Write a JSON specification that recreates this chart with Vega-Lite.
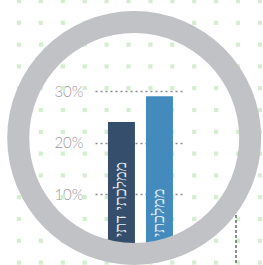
{
  "$schema": "https://vega.github.io/schema/vega-lite/v6.json",
  "autosize": "none",
  "padding": {"left": 95, "top": 91, "right": 79, "bottom": 19},
  "width": 89,
  "height": 155,
  "background": "#ffffff",
  "config": {"view": {"stroke": null}},
  "resolve": {"scale": {"x": "independent", "y": "independent"}},
  "layer": [
    {
      "data": {"values": [
        {"c":0,"r":0},{"c":0,"r":1},{"c":0,"r":2},{"c":0,"r":3},{"c":0,"r":4},{"c":0,"r":5},{"c":0,"r":6},{"c":0,"r":7},{"c":0,"r":8},{"c":0,"r":9},{"c":0,"r":10},{"c":0,"r":11},{"c":0,"r":12},
        {"c":1,"r":0},{"c":1,"r":1},{"c":1,"r":2},{"c":1,"r":3},{"c":1,"r":4},{"c":1,"r":5},{"c":1,"r":6},{"c":1,"r":7},{"c":1,"r":8},{"c":1,"r":9},{"c":1,"r":10},{"c":1,"r":11},{"c":1,"r":12},
        {"c":2,"r":0},{"c":2,"r":1},{"c":2,"r":2},{"c":2,"r":3},{"c":2,"r":4},{"c":2,"r":5},{"c":2,"r":6},{"c":2,"r":7},{"c":2,"r":8},{"c":2,"r":9},{"c":2,"r":10},{"c":2,"r":11},{"c":2,"r":12},
        {"c":3,"r":0},{"c":3,"r":1},{"c":3,"r":2},{"c":3,"r":3},{"c":3,"r":4},{"c":3,"r":5},{"c":3,"r":6},{"c":3,"r":7},{"c":3,"r":8},{"c":3,"r":9},{"c":3,"r":10},{"c":3,"r":11},{"c":3,"r":12},
        {"c":4,"r":0},{"c":4,"r":1},{"c":4,"r":2},{"c":4,"r":3},{"c":4,"r":4},{"c":4,"r":5},{"c":4,"r":6},{"c":4,"r":7},{"c":4,"r":8},{"c":4,"r":9},{"c":4,"r":10},{"c":4,"r":11},{"c":4,"r":12},
        {"c":5,"r":0},{"c":5,"r":1},{"c":5,"r":2},{"c":5,"r":3},{"c":5,"r":4},{"c":5,"r":5},{"c":5,"r":6},{"c":5,"r":7},{"c":5,"r":8},{"c":5,"r":9},{"c":5,"r":10},{"c":5,"r":11},{"c":5,"r":12},
        {"c":6,"r":0},{"c":6,"r":1},{"c":6,"r":2},{"c":6,"r":3},{"c":6,"r":4},{"c":6,"r":5},{"c":6,"r":6},{"c":6,"r":7},{"c":6,"r":8},{"c":6,"r":9},{"c":6,"r":10},{"c":6,"r":11},{"c":6,"r":12},
        {"c":7,"r":0},{"c":7,"r":1},{"c":7,"r":2},{"c":7,"r":3},{"c":7,"r":4},{"c":7,"r":5},{"c":7,"r":6},{"c":7,"r":7},{"c":7,"r":8},{"c":7,"r":9},{"c":7,"r":10},{"c":7,"r":11},{"c":7,"r":12},
        {"c":8,"r":0},{"c":8,"r":1},{"c":8,"r":2},{"c":8,"r":3},{"c":8,"r":4},{"c":8,"r":5},{"c":8,"r":6},{"c":8,"r":7},{"c":8,"r":8},{"c":8,"r":9},{"c":8,"r":10},{"c":8,"r":11},{"c":8,"r":12},
        {"c":9,"r":0},{"c":9,"r":1},{"c":9,"r":2},{"c":9,"r":3},{"c":9,"r":4},{"c":9,"r":5},{"c":9,"r":6},{"c":9,"r":7},{"c":9,"r":8},{"c":9,"r":9},{"c":9,"r":10},{"c":9,"r":11},{"c":9,"r":12},
        {"c":10,"r":0},{"c":10,"r":1},{"c":10,"r":2},{"c":10,"r":3},{"c":10,"r":4},{"c":10,"r":5},{"c":10,"r":6},{"c":10,"r":7},{"c":10,"r":8},{"c":10,"r":9},{"c":10,"r":10},{"c":10,"r":11},{"c":10,"r":12},
        {"c":11,"r":0},{"c":11,"r":1},{"c":11,"r":2},{"c":11,"r":3},{"c":11,"r":4},{"c":11,"r":5},{"c":11,"r":6},{"c":11,"r":7},{"c":11,"r":8},{"c":11,"r":9},{"c":11,"r":10},{"c":11,"r":11},{"c":11,"r":12}
      ]},
      "layer": [
        {
          "mark": {"type": "point", "shape": "square", "filled": true, "size": 18, "color": "#d6edd1", "opacity": 1, "clip": false},
          "encoding": {
            "x": {"field": "c", "type": "quantitative", "scale": {"domain": [3.47, 7.534], "nice": false, "zero": false}, "axis": null},
            "y": {"field": "r", "type": "quantitative", "scale": {"domain": [4.128, 11.239], "nice": false, "zero": false, "reverse": true}, "axis": null}
          }
        },
        {
          "mark": {"type": "rule", "color": "#8a8a8a", "strokeWidth": 1.5, "strokeDash": [2, 3], "clip": false},
          "encoding": {
            "x": {"datum": 9.9, "type": "quantitative"},
            "y": {"datum": 8, "type": "quantitative"},
            "y2": {"datum": 12.6}
          }
        }
      ]
    },
    {
      "data": {"values": [
        {"cat": "ממלכתי דתי", "v": 0.24},
        {"cat": "ממלכתי", "v": 0.29}
      ]},
      "layer": [
        {
          "mark": {"type": "bar", "clip": false},
          "encoding": {
            "x": {"field": "cat", "type": "nominal", "sort": null, "scale": {"paddingInner": 0.29, "paddingOuter": 0.316, "align": 0.54}, "axis": null},
            "y": {"field": "v", "type": "quantitative", "scale": {"domain": [0, 0.3], "nice": false, "zero": true},
              "axis": {"orient": "left", "values": [0.1, 0.2, 0.3], "format": ".0%", "title": null, "domain": false, "ticks": false, "labelPadding": 12,
                "labelColor": "#9a9a9a", "labelFontSize": 15, "labelFont": "Lato", "labelFontWeight": 300,
                "grid": true, "gridColor": "#8a8a8a", "gridDash": [2, 3], "gridWidth": 1.5, "gridOpacity": 1}},
            "color": {"field": "cat", "type": "nominal", "scale": {"domain": ["ממלכתי דתי", "ממלכתי"], "range": ["#344e6c", "#438bbd"]}, "legend": null}
          }
        },
        {
          "mark": {"type": "text", "angle": 270, "align": "left", "baseline": "middle", "dx": 9, "fontSize": 16, "font": "DejaVu Sans", "fontWeight": 300, "color": "#e8eef5", "clip": false},
          "encoding": {
            "x": {"field": "cat", "type": "nominal", "sort": null},
            "y": {"datum": 0, "type": "quantitative"},
            "text": {"field": "cat"}
          }
        }
      ]
    },
    {
      "data": {"values": [{"ring": 1}]},
      "mark": {"type": "arc", "innerRadius": 105, "outerRadius": 127, "xOffset": -5.3, "yOffset": -30.5, "color": "#c1c2c6", "stroke": null},
      "encoding": {
        "theta": {"field": "ring", "type": "quantitative"}
      }
    }
  ]
}
